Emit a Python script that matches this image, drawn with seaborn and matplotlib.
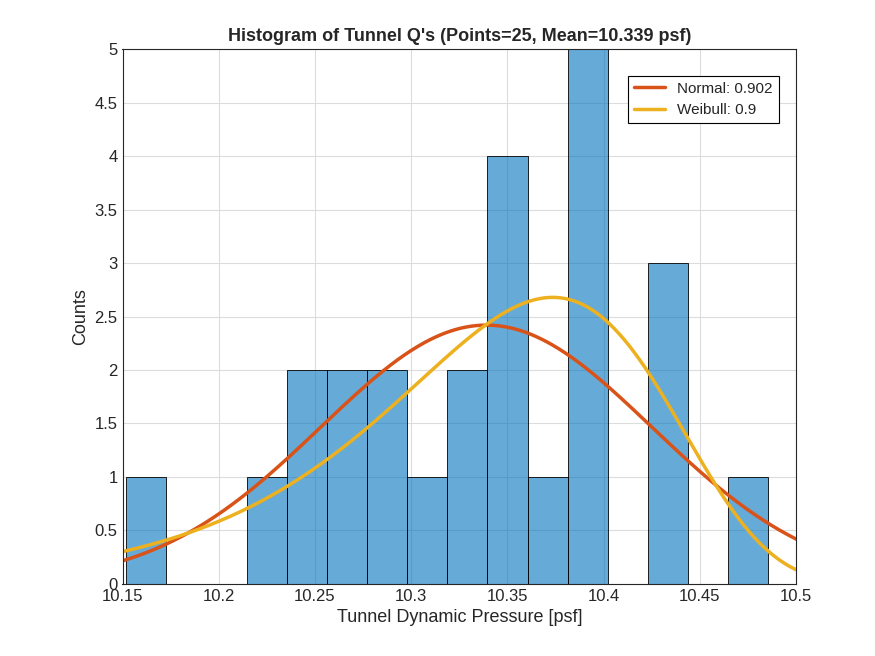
import numpy as np
import pandas as pd
import matplotlib
matplotlib.use("Agg")
import matplotlib.pyplot as plt
import seaborn as sns

bin_start = 10.152
bin_width = 0.02084
counts = [1, 0, 0, 1, 2, 2, 2, 1, 2, 4, 1, 5, 0, 3, 0, 1]
n_points = 25
mean_q = 10.339
norm_sigma = 0.0859
weib_scale = 10.374
weib_shape = 145

sns.set_theme(style="whitegrid")
plt.rcParams['font.family'] = ['Arial', 'Liberation Sans', 'DejaVu Sans']

edges = bin_start + bin_width * np.arange(len(counts) + 1)
centers = (edges[:-1] + edges[1:]) / 2
df = pd.DataFrame({"x": centers, "w": counts})

fig, ax = plt.subplots(figsize=(8.75, 6.56), dpi=100)
fig.subplots_adjust(left=0.14, right=0.91, top=0.925, bottom=0.11)
sns.histplot(data=df, x="x", weights="w", bins=[float(e) for e in edges], ax=ax,
             color="#0072BD", alpha=0.6, edgecolor="black", linewidth=0.6)

xs = np.linspace(10.15, 10.5, 400)
scale = n_points * bin_width
normal = scale * np.exp(-0.5 * ((xs - mean_q) / norm_sigma) ** 2) / (norm_sigma * np.sqrt(2 * np.pi))
z = (xs / weib_scale) ** weib_shape
weib = scale * (weib_shape / weib_scale) * (xs / weib_scale) ** (weib_shape - 1) * np.exp(-z)
sns.lineplot(x=xs, y=normal, ax=ax, color="#D95319", linewidth=2.5, label="Normal: 0.902")
sns.lineplot(x=xs, y=weib, ax=ax, color="#EDB120", linewidth=2.5, label="Weibull: 0.9")

ax.set_xlim(10.15, 10.5)
ax.set_ylim(0, 5)
ax.set_xticks(np.arange(10.15, 10.501, 0.05))
ax.set_xticklabels(["10.15", "10.2", "10.25", "10.3", "10.35", "10.4", "10.45", "10.5"])
ax.set_yticks(np.arange(0, 5.01, 0.5))
ax.set_yticklabels(["0", "0.5", "1", "1.5", "2", "2.5", "3", "3.5", "4", "4.5", "5"])
ax.tick_params(labelsize=12, colors="#262626", direction="in", length=4)
ax.grid(True, color="#dcdcdc", linewidth=0.8)
ax.set_axisbelow(True)
for s in ax.spines.values():
    s.set_visible(True)
    s.set_color("#262626")
    s.set_linewidth(0.8)
ax.set_facecolor("white")
ax.set_xlabel("Tunnel Dynamic Pressure [psf]", fontsize=13, color="#262626")
ax.set_ylabel("Counts", fontsize=13, color="#262626")
ax.set_title("Histogram of Tunnel Q's (Points=25, Mean=10.339 psf)", fontsize=13, fontweight="bold")
leg = ax.legend(loc="upper right", bbox_to_anchor=(0.985, 0.965), fontsize=11,
                frameon=True, fancybox=False, edgecolor="black", framealpha=1)
leg.get_frame().set_linewidth(0.8)
fig.savefig("out.png", dpi=100)
